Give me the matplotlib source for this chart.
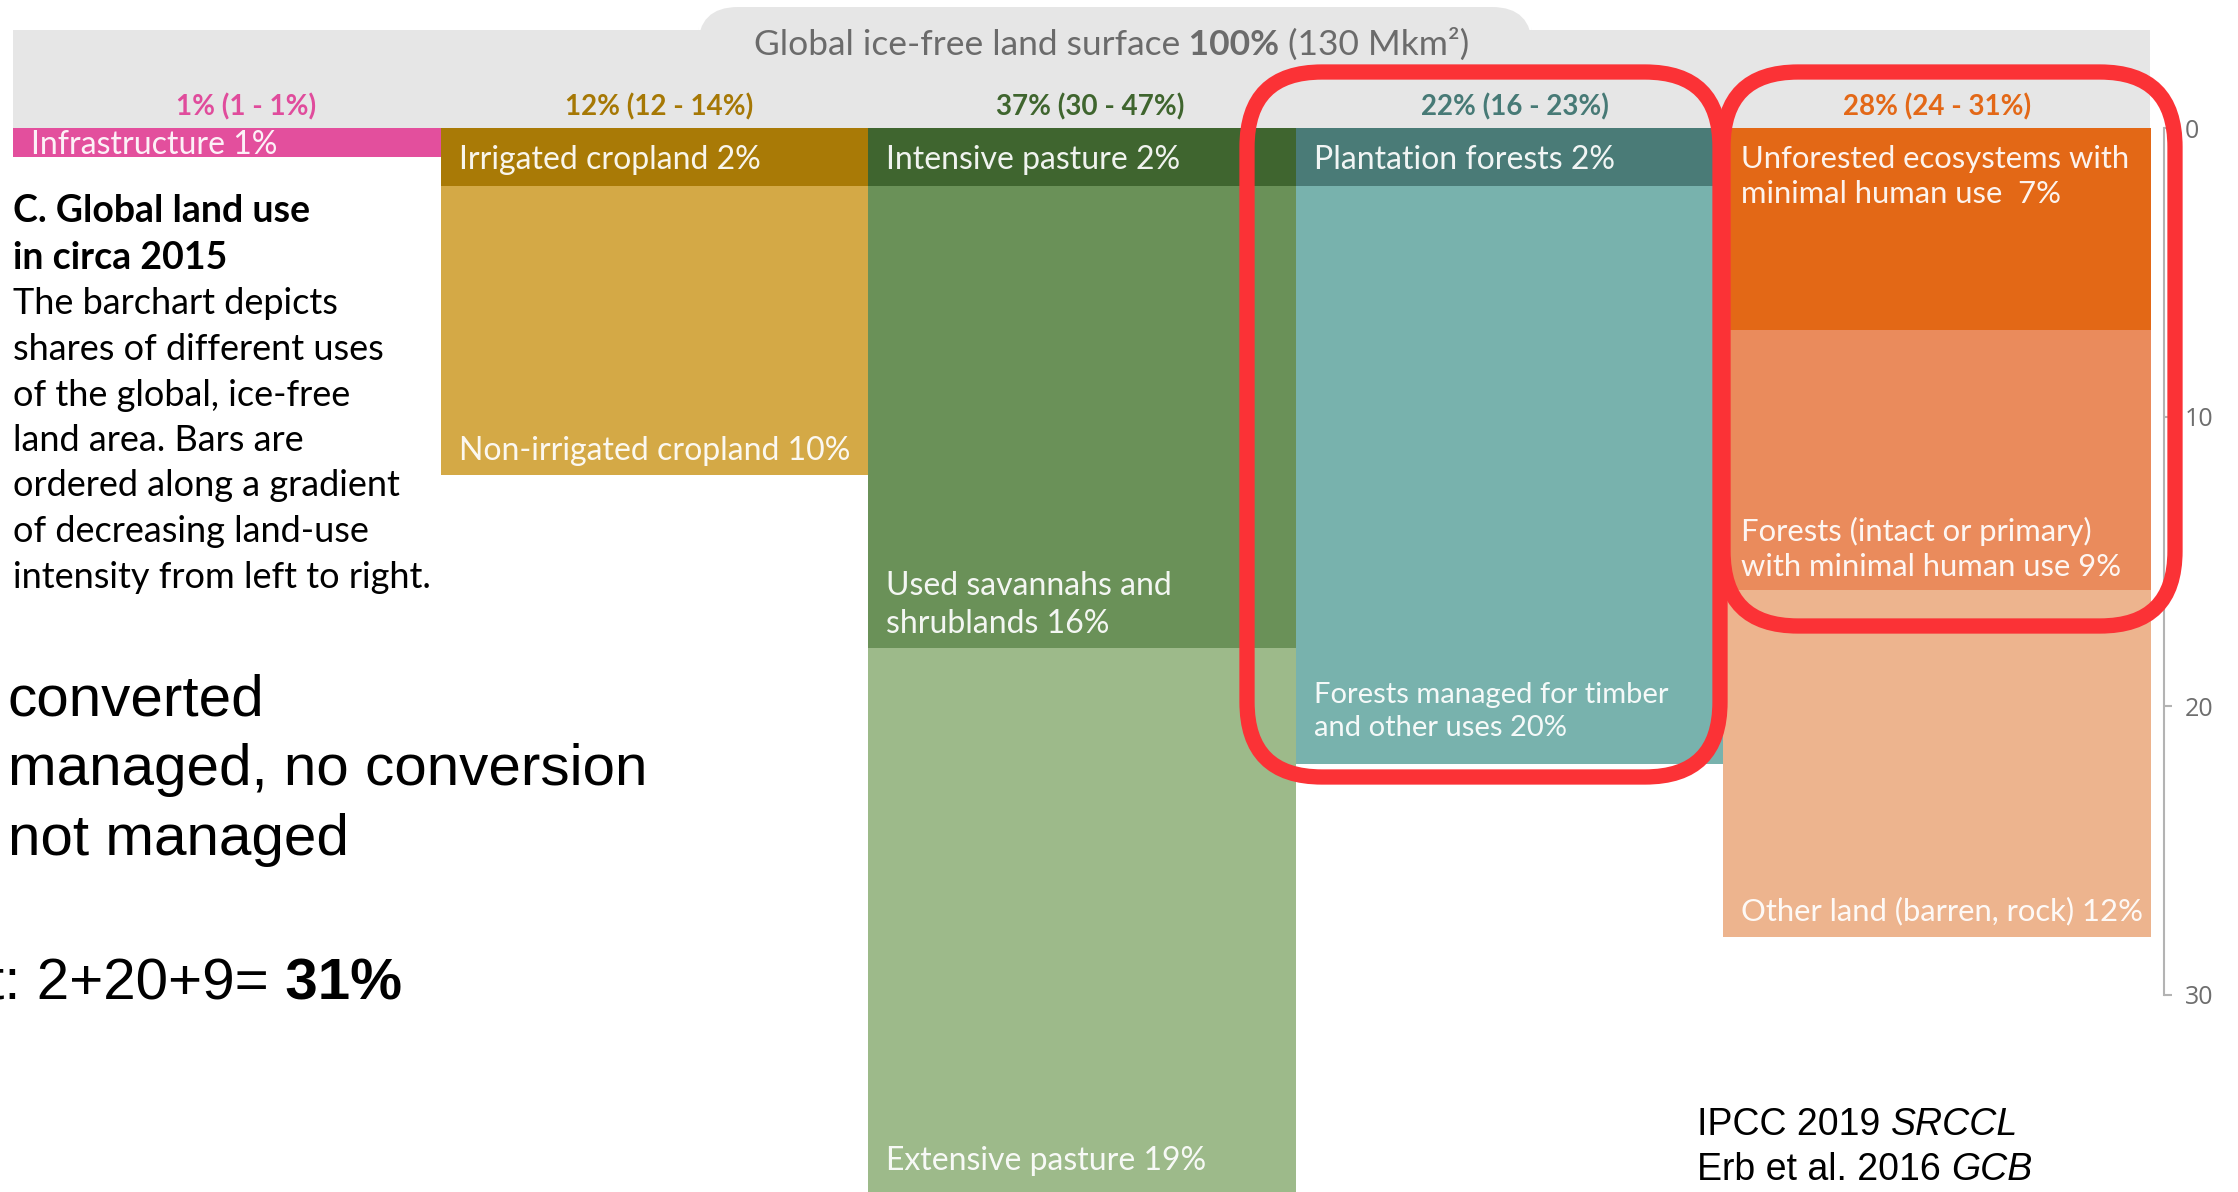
import numpy as np
import matplotlib
matplotlib.use('Agg')
import matplotlib.pyplot as plt
from matplotlib.patches import Rectangle, FancyBboxPatch

plt.rcParams['font.family'] = ['Lato', 'DejaVu Sans']

# land-use columns, from most to least intensive use
col_totals = ['1% (1 - 1%)', '12% (12 - 14%)', '37% (30 - 47%)',
              '22% (16 - 23%)', '28% (24 - 31%)']
col_colors = ['#e04c9c', '#a67805', '#3f652e', '#477a76', '#e36817']

# segments per column, top to bottom, in % of ice-free land
infra_vals = [1]
crop_vals = [2, 10]
pasture_vals = [2, 16, 19]
forest_vals = [2, 20]
unused_vals = [7, 9, 12]

infra_names = ['Infrastructure 1%']
crop_names = ['Irrigated cropland 2%', 'Non-irrigated cropland 10%']
pasture_names = ['Intensive pasture 2%', 'Used savannahs and\nshrublands 16%',
                 'Extensive pasture 19%']
forest_names = ['Plantation forests 2%',
                'Forests managed for timber\nand other uses 20%']
unused_names = ['Unforested ecosystems with\nminimal human use  7%',
                'Forests (intact or primary)\nwith minimal human use 9%',
                'Other land (barren, rock) 12%']

infra_cols = ['#e34f9d']
crop_cols = ['#a97a06', '#d4a946']
pasture_cols = ['#3f652f', '#6a9158', '#9dba8a']
forest_cols = ['#4a7b77', '#78b2ad']
unused_cols = ['#e36816', '#ea8b5c', '#edb48e']

columns = [(infra_vals, infra_names, infra_cols),
           (crop_vals, crop_names, crop_cols),
           (pasture_vals, pasture_names, pasture_cols),
           (forest_vals, forest_names, forest_cols),
           (unused_vals, unused_names, unused_cols)]

y_ticks = [0, 10, 20, 30]

title_parts = ['Global ice-free land surface', ' 100%', ' (130 Mkm²)']
heading = ['C. Global land use', 'in circa 2015']
body = ['The barchart depicts', 'shares of different uses',
        'of the global, ice-free', 'land area. Bars are',
        'ordered along a gradient', 'of decreasing land-use',
        'intensity from left to right.']
notes = ['converted', 'managed, no conversion', 'not managed']

W, H = 2238, 1192
fig = plt.figure(figsize=(W / 100, H / 100), dpi=100)

# layout in pixels
left_px, axis_px, top_px = 13, 2164, 128
col_px = 427.6
px_per_pct = 28.9

# label placement inside the bars (distance from segment bottom, in %)
bottom_pad = {'Non-irrigated cropland 10%': 0.3,
              'Used savannahs and\nshrublands 16%': 0.33,
              'Extensive pasture 19%': 0.75,
              'Forests managed for timber\nand other uses 20%': 0.8,
              'Forests (intact or primary)\nwith minimal human use 9%': 0.33,
              'Other land (barren, rock) 12%': 0.42}
header_dx = [0.045, 0.01, 0.02, 0.012, 0.0]
label_size = [23, 23, 23, 23, 22.3]

# pixel-space layer behind the bars
back = fig.add_axes([0, 0, 1, 1], zorder=0)
back.set_xlim(0, W)
back.set_ylim(H, 0)
back.axis('off')

ax = fig.add_axes([left_px / W, 0, (axis_px - left_px) / W, 1 - top_px / H], zorder=1)
ax.set_xlim(0, (axis_px - left_px) / col_px)
ax.set_ylim((H - top_px) / px_per_pct, 0)
ax.patch.set_visible(False)

# pixel-space layer on top
front = fig.add_axes([0, 0, 1, 1], zorder=2)
front.set_xlim(0, W)
front.set_ylim(H, 0)
front.axis('off')

# grey header with tab
grey = '#e6e6e6'
back.add_patch(Rectangle((13, 30), 2150 - 13, 99, color=grey, lw=0))
back.add_patch(FancyBboxPatch((698, 7), 1532 - 698, 60,
                              boxstyle='round,pad=0,rounding_size=40', color=grey, lw=0))
t = back.text(754, 61, title_parts[0], fontsize=25.5, color='#6b6b6b', va='bottom')
t = back.annotate(title_parts[1], xy=(1, 0), xycoords=t, va='bottom', fontsize=25.5,
                  color='#6b6b6b', fontweight='bold')
back.annotate(title_parts[2], xy=(1, 0), xycoords=t, va='bottom', fontsize=25.5, color='#6b6b6b')

# bars
for i, (vals, names, colors) in enumerate(columns):
    bottoms = np.cumsum([0] + vals[:-1])
    ax.bar([i + 0.5] * len(vals), vals, bottom=bottoms, width=1.0, color=colors, linewidth=0)
    ax.text(i + 0.5 + header_dx[i], -0.73, col_totals[i], ha='center', va='center',
            fontsize=20, fontweight='bold', color=col_colors[i])
    for j, (v, b, name) in enumerate(zip(vals, bottoms, names)):
        size = 21 if name.startswith('Forests managed') else label_size[i]
        kw = dict(color='white', alpha=0.93, fontsize=size, ha='left', linespacing=1.3)
        if v <= 1:
            ax.text(i + 0.042, b + v / 2 + 0.08, name, va='center', **kw)
        elif j == 0:
            ax.text(i + 0.042, b + 0.6, name, va='top', **kw)
        else:
            ax.text(i + 0.042, b + v - bottom_pad[name], name, va='bottom', **kw)

# scale on the right
for s in ['left', 'top', 'bottom']:
    ax.spines[s].set_visible(False)
ax.spines['right'].set_bounds(0, 30)
ax.spines['right'].set_color('#b3b3b3')
ax.spines['right'].set_linewidth(1.5)
ax.yaxis.tick_right()
ax.set_yticks(y_ticks)
ax.set_xticks([])
ax.tick_params(axis='y', direction='out', length=6, width=1.5, color='#b3b3b3',
               pad=9, labelsize=18, labelcolor='#6e6e6e')
for lbl in ax.get_yticklabels():
    lbl.set_fontfamily('Open Sans')

# description on the left
for k, line in enumerate(heading):
    back.text(13, 211 + k * 47, line, fontsize=27, fontweight='bold', va='center', color='black')
for k, line in enumerate(body):
    back.text(13, 304 + k * 45.5, line, fontsize=26, va='center', color='black')

# highlighted columns
red = '#fb3236'
for x0, y0, x1, y1 in [(1247, 72, 1720, 777), (1723, 72, 2175, 626)]:
    front.add_patch(FancyBboxPatch((x0, y0), x1 - x0, y1 - y0,
                                   boxstyle='round,pad=0,rounding_size=75',
                                   fill=False, ec=red, lw=11))

arial = ['Liberation Sans', 'DejaVu Sans']
for k, line in enumerate(notes):
    front.text(8, 700 + k * 70, line, fontsize=42, family=arial, va='center')
t = front.text(-12, 1011, 't: 2+20+9=', fontsize=42, family=arial, va='bottom')
front.annotate(' 31%', xy=(1, 0), xycoords=t, va='bottom', fontsize=42, family=arial,
               fontweight='bold')

t = front.text(1697, 1143, 'IPCC 2019 ', fontsize=27, family=arial, va='bottom')
front.annotate('SRCCL', xy=(1, 0), xycoords=t, va='bottom', fontsize=27, family=arial,
               style='italic')
t = front.text(1697, 1188, 'Erb et al. 2016 ', fontsize=27, family=arial, va='bottom')
front.annotate('GCB', xy=(1, 0), xycoords=t, va='bottom', fontsize=27, family=arial,
               style='italic')

fig.savefig('out.png', dpi=100)
